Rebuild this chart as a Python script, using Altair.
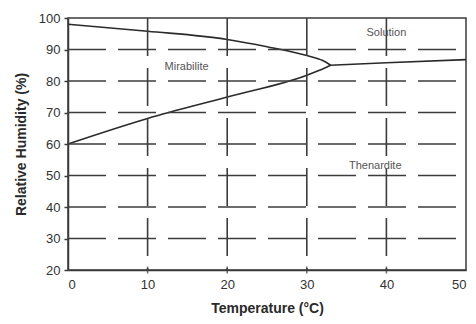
import altair as alt
import pandas as pd

# Phase boundary curves (Temperature °C, Relative Humidity %)
upper_t = [0, 10, 20, 25, 30, 32, 33]
upper_rh = [98, 95.8, 93.2, 90.9, 88.1, 86.5, 85.0]
lower_t = [0, 10, 20, 30, 31.5, 33]
lower_rh = [60, 68.1, 74.9, 81.8, 83.3, 85.0]
right_t = [33, 40, 50]
right_rh = [85.0, 85.8, 86.8]

grid_y = [30, 40, 50, 60, 70, 80, 90]
grid_x = [10, 20, 30, 40]
x_ticks = [0, 10, 20, 30, 40, 50]
y_ticks = [20, 30, 40, 50, 60, 70, 80, 90, 100]

label_text = ["Solution", "Mirabilite", "Thenardite"]
label_t = [40, 14.9, 38.6]
label_rh = [95.1, 84.3, 53.0]

rows = []
for name, ts, rs in [("upper", upper_t, upper_rh), ("lower", lower_t, lower_rh), ("right", right_t, right_rh)]:
    for i, (t, r) in enumerate(zip(ts, rs)):
        rows.append({"series": name, "idx": i, "t": t, "rh": r})
curves = pd.DataFrame(rows)

xs = alt.Scale(domain=[0, 50], nice=False, zero=False)
ys = alt.Scale(domain=[20, 100], nice=False, zero=False)
xa = alt.Axis(values=x_ticks, title="Temperature (°C)", grid=False, ticks=False,
              labelPadding=8, titlePadding=10, labelOverlap=False)
ya = alt.Axis(values=y_ticks, title="Relative Humidity (%)", grid=False, tickSize=4,
              labelPadding=4, titlePadding=10, labelOverlap=False)

GRID = "#3c3c3c"
FONT = "Liberation Sans"

lines = alt.Chart(curves).mark_line(color="#2a2a2a", strokeWidth=1.6, interpolate="monotone").encode(
    x=alt.X("t:Q", scale=xs, axis=xa),
    y=alt.Y("rh:Q", scale=ys, axis=ya),
    detail="series:N",
    order="idx:Q",
)

hgrid = alt.Chart(pd.DataFrame({"y": grid_y})).mark_rule(
    color=GRID, strokeWidth=1.6, strokeDash=[38, 12]
).encode(
    x=alt.datum(0, scale=xs, axis=xa), x2=alt.datum(50), y=alt.Y("y:Q", scale=ys, axis=ya)
)

vgrid = alt.Chart(pd.DataFrame({"x": grid_x})).mark_rule(
    color=GRID, strokeWidth=1.6, strokeDash=[38, 12]
).encode(
    x=alt.X("x:Q", scale=xs, axis=xa), y=alt.datum(100, scale=ys, axis=ya), y2=alt.datum(20)
)

xtick = alt.Chart(pd.DataFrame({"x": x_ticks[1:-1]})).mark_tick(
    color=GRID, thickness=1.6, size=7, orient="vertical"
).encode(
    x=alt.X("x:Q", scale=xs, axis=xa), y=alt.datum(20, scale=ys, axis=ya)
)

labels = alt.Chart(pd.DataFrame({"text": label_text, "t": label_t, "rh": label_rh})).mark_text(
    font=FONT, fontSize=11, color="#555555", align="center", baseline="middle"
).encode(
    x=alt.X("t:Q", scale=xs, axis=xa), y=alt.Y("rh:Q", scale=ys, axis=ya), text="text:N"
)

chart = alt.layer(lines, hgrid, vgrid, xtick, labels).properties(
    width=398, height=252,
    autosize=alt.AutoSizeParams(type="none"),
    padding={"left": 60, "top": 10, "right": 2, "bottom": 46},
    background="white",
).configure_view(
    stroke="#3a3a3a", strokeWidth=1.5
).configure_axis(
    domainColor="#3a3a3a", domainWidth=1.5, tickColor="#3a3a3a", tickWidth=1.5,
    labelFont=FONT, labelFontSize=13, labelColor="#333333",
    titleFont=FONT, titleFontSize=14, titleFontWeight="bold", titleColor="#2a2a2a",
)

chart.save("out.html", embed_options={"renderer": "svg", "actions": False})
